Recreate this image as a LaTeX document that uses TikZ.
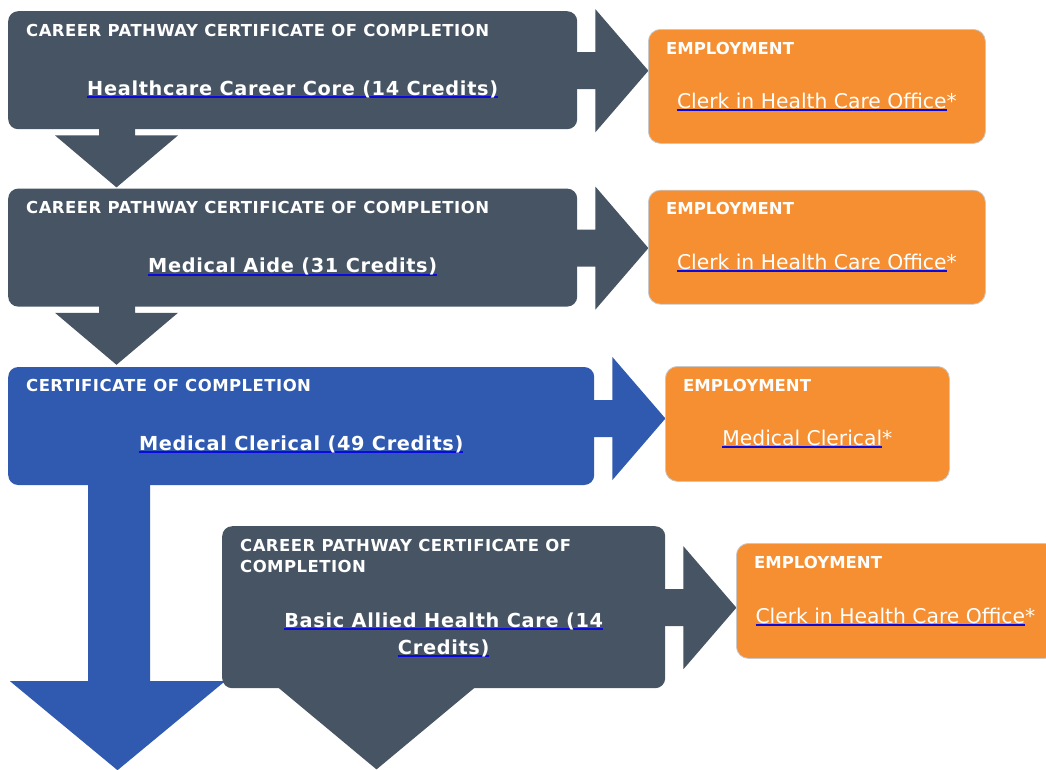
\documentclass[tikz,border=0pt]{standalone}
\usepackage{fontspec}
\setmainfont{DejaVu Sans}
\newfontfamily\titlefont[LetterSpace=3.5]{DejaVu Sans}
\newfontfamily\headfont[LetterSpace=2.8]{DejaVu Sans}
\usetikzlibrary{positioning}
\definecolor{pathslate}{HTML}{465464}
\definecolor{clericalblue}{HTML}{2F5AAF}
\definecolor{joborange}{HTML}{F58F31}
\definecolor{jobedge}{HTML}{C9C9C9}
\definecolor{linkblue}{HTML}{0A0AE0}
\newlength\lnklen
\newcommand\lnk[1]{\settowidth\lnklen{#1}\makebox[0pt][l]{\color{linkblue}\rule[-3pt]{\lnklen}{2pt}}#1}

\begin{document}
\begin{tikzpicture}[
  x=1pt,y=-1pt,
  certbox/.style={rounded corners=10pt,minimum width=569pt,minimum height=118pt,inner sep=0pt,fill=pathslate},
  jobbox/.style={draw=jobedge,line width=0.8pt,rounded corners=12pt,minimum height=114pt,inner sep=0pt,fill=joborange,anchor=north west},
  certhead/.style={text=white,font=\headfont\fontsize{16.5}{21}\selectfont\bfseries,anchor=base west,inner sep=0pt,align=left},
  jobhead/.style={text=white,font=\fontsize{16.5}{21}\selectfont\bfseries,anchor=base west,inner sep=0pt},
  certtitle/.style={text=white,font=\titlefont\fontsize{19.3}{27}\selectfont\bfseries,anchor=base,inner sep=0pt,align=center},
  jobtext/.style={text=white,font=\fontsize{20.3}{24}\selectfont,anchor=base,inner sep=0pt}
]
  \useasboundingbox (0,0) rectangle (1046,769);
  % certificate boxes
  \node[certbox,anchor=north west] (core) at (8,11) {};
  \node[certbox,below=59pt of core] (aide) {};
  \node[certbox,fill=clericalblue,minimum width=586pt,below=60pt of aide.south west,anchor=north west] (clerical) {};
  % down arrows
  \foreach \b in {core,aide}
    \fill[pathslate] ([xshift=91pt,yshift=1pt]\b.south west) -- ++(0,7) -- ++(-44,0)
      -- ++(61.5,52) -- ++(61.5,-52) -- ++(-43,0) -- ++(0,-7) -- cycle;
  \fill[clericalblue] ([xshift=80pt,yshift=1pt]clerical.south west) -- ++(0,197) -- ++(-78,0)
    -- ++(107.5,89) -- ++(107.5,-89) -- ++(-75,0) -- ++(0,-197) -- cycle;
  \node[certbox,minimum width=443pt,minimum height=162pt,anchor=north west] (allied) at (222,526) {};
  \fill[pathslate] ([xshift=56pt,yshift=1pt]allied.south west) -- ++(98.5,82) -- ++(98.5,-82) -- cycle;
  % right arrows
  \foreach \b/\c/\dy in {core/pathslate/0,aide/pathslate/0,clerical/clericalblue/-8,allied/pathslate/0}
    \fill[\c] (\b.east) ++(-1,\dy-18) -- ++(19,0) -- ++(0,-43) -- ++(53,61.5)
      -- ++(-53,61.5) -- ++(0,-43) -- ++(-19,0) -- cycle;
  % employment boxes
  \node[jobbox,minimum width=337pt] (job1) at (648,29) {};
  \node[jobbox,minimum width=337pt,below=46pt of job1.south west,anchor=north west] (job2) {};
  \node[jobbox,minimum width=284pt,minimum height=115pt] (job3) at (665,366) {};
  \node[jobbox,minimum width=320pt,minimum height=115pt] (job4) at (736,543) {};
  % texts
  \node[certhead] (corehd) at ([shift={(18,25)}]core.north west) {CAREER PATHWAY CERTIFICATE OF COMPLETION};
  \node[certtitle] (coretl) at ([yshift=-25pt]core.center) {\lnk{Healthcare Career Core (14 Credits)}};
  \node[certhead] (aidehd) at ([shift={(18,25)}]aide.north west) {CAREER PATHWAY CERTIFICATE OF COMPLETION};
  \node[certtitle] (aidetl) at ([yshift=-25pt]aide.center) {\lnk{Medical Aide (31 Credits)}};
  \node[certhead] (clericalhd) at ([shift={(18,25)}]clerical.north west) {CERTIFICATE OF COMPLETION};
  \node[certtitle] (clericaltl) at ([yshift=-24pt]clerical.center) {\lnk{Medical Clerical (49 Credits)}};
  \node[certhead] (alliedhd) at ([shift={(18,46)}]allied.north west) {CAREER PATHWAY CERTIFICATE OF\\COMPLETION};
  \node[certtitle] (alliedtl) at ([yshift=-47pt]allied.center) {\lnk{Basic Allied Health Care (14}\\\lnk{Credits)}};
  \foreach \j in {job1,job2,job3,job4}
    \node[jobhead] (\j hd) at ([shift={(18,25)}]\j.north west) {EMPLOYMENT};
  \node[jobtext] (job1tx) at ([yshift=-22pt]job1.center) {\lnk{Clerk in Health Care Office}*};
  \node[jobtext] (job2tx) at ([yshift=-22pt]job2.center) {\lnk{Clerk in Health Care Office}*};
  \node[jobtext] (job3tx) at ([yshift=-21.5pt]job3.center) {\lnk{Medical Clerical}*};
  \node[jobtext] (job4tx) at ([xshift=-1pt,yshift=-22.5pt]job4.center) {\lnk{Clerk in Health Care Office}*};
\end{tikzpicture}
\end{document}
